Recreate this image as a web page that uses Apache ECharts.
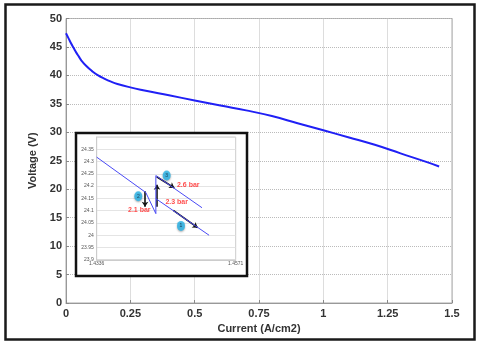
<!DOCTYPE html>
<html>
<head>
<meta charset="utf-8">
<script src="https://cdn.jsdelivr.net/npm/echarts@6/dist/echarts.min.js"></script>
<style>
  html, body { margin: 0; padding: 0; background: #fff; }
  #main { width: 480px; height: 346px; }
</style>
</head>
<body>
<div id="main"></div>
<script>
// polarisation curve (main plot)
var current = [0, 0.01, 0.02, 0.03, 0.04, 0.05, 0.06, 0.08, 0.1, 0.125, 0.15, 0.175, 0.2, 0.25, 0.3, 0.4, 0.5, 0.6, 0.7, 0.8, 0.9, 1.0, 1.1, 1.2, 1.3, 1.4, 1.45];
var voltage = [47.4, 46.5, 45.6, 44.8, 44.0, 43.3, 42.6, 41.6, 40.8, 40.0, 39.4, 38.9, 38.5, 37.9, 37.4, 36.5, 35.6, 34.7, 33.85, 32.85, 31.6, 30.35, 29.1, 27.8, 26.3, 24.8, 24.0];
var xTicks = [0, 0.25, 0.5, 0.75, 1, 1.25, 1.5];

// zoomed inset (pressure steps)
var insetXRange = [1.4336, 1.4571];
var insetPath = [[1.4336, 24.318], [1.4419, 24.174], [1.4436, 24.088], [1.4436, 24.243], [1.4514, 24.112]];
var insetLower = [[1.4436, 24.149], [1.4526, 24.0]];
var insetArrows = [
  [[1.44177, 24.179], [1.44177, 24.116]],
  [[1.4438, 24.116], [1.4438, 24.206]],
  [[1.44374, 24.238], [1.44672, 24.193]],
  [[1.44655, 24.101], [1.45067, 24.031]]
];
var markerNames = ['3', '2', '1'];
var markerPos = [[1.44543, 24.243], [1.44063, 24.159], [1.44785, 24.038]];
var barNames = ['2.6 bar', '2.3 bar', '2.1 bar'];
var barPos = [[1.44908, 24.204], [1.44712, 24.134], [1.4408, 24.101]];

var chart = echarts.init(document.getElementById('main'), null, { renderer: 'canvas' });

var mainData = current.map(function (c, i) { return [c, voltage[i]]; });
var markers = markerNames.map(function (n, i) { return { name: n, value: markerPos[i] }; });
var bars = barNames.map(function (n, i) { return { name: n, value: barPos[i] }; });

var labelFont = 'Liberation Sans, Arial, sans-serif';

var option = {
  animation: false,
  textStyle: { fontFamily: labelFont },
  graphic: [
    { type: 'rect', shape: { x: 5.5, y: 4.5, width: 469, height: 335 },
      style: { fill: 'none', stroke: '#1a1a1a', lineWidth: 2.5 }, z: 10 },
    { type: 'rect', shape: { x: 76, y: 133, width: 171, height: 143 },
      style: { fill: '#fff', stroke: '#111', lineWidth: 2.5 }, z: 4 }
  ],
  grid: [
    { left: 66, right: 28, top: 18.5, bottom: 43, show: true, borderColor: '#aaa', borderWidth: 1 },
    { left: 96.7, right: 244.3, top: 137, bottom: 86.2, show: true, borderColor: '#ccc', borderWidth: 1, z: 5 }
  ],
  xAxis: [{
    gridIndex: 0,
    type: 'value',
    min: 0, max: 1.5, interval: 0.25,
    name: 'Current (A/cm2)',
    nameLocation: 'middle',
    nameGap: 17,
    nameTextStyle: { fontSize: 11, fontWeight: 'bold', color: '#333' },
    axisLine: { lineStyle: { color: '#999' } },
    axisTick: { inside: true, length: 3, lineStyle: { color: '#888' } },
    axisLabel: { fontSize: 11, fontWeight: 'bold', color: '#333', margin: 5,
      customValues: xTicks },
    splitLine: { lineStyle: { type: 'dotted', color: '#bbb' } }
  }, {
    gridIndex: 1,
    type: 'value',
    min: insetXRange[0], max: insetXRange[1],
    z: 5,
    axisLine: { lineStyle: { color: '#ccc' } },
    axisTick: { show: false },
    axisLabel: { fontSize: 5, color: '#555', margin: 1, customValues: insetXRange },
    splitLine: { show: false }
  }],
  yAxis: [{
    gridIndex: 0,
    type: 'value',
    min: 0, max: 50, interval: 5,
    name: 'Voltage (V)',
    nameLocation: 'middle',
    nameGap: 28,
    nameTextStyle: { fontSize: 11, fontWeight: 'bold', color: '#333' },
    axisLine: { lineStyle: { color: '#999' } },
    axisTick: { inside: true, length: 3, lineStyle: { color: '#888' } },
    axisLabel: { fontSize: 11, fontWeight: 'bold', color: '#333', margin: 4 },
    splitLine: { lineStyle: { type: 'dotted', color: '#bbb' } }
  }, {
    gridIndex: 1,
    type: 'value',
    min: 23.9, max: 24.4, interval: 0.05,
    z: 5,
    axisLine: { show: true, lineStyle: { color: '#ccc' } },
    axisTick: { show: false },
    axisLabel: { fontSize: 5, color: '#555', margin: 3, showMaxLabel: false },
    splitLine: { lineStyle: { color: '#ddd', width: 0.8 } }
  }],
  series: [{
    type: 'line',
    xAxisIndex: 0, yAxisIndex: 0,
    data: mainData,
    smooth: true,
    showSymbol: false,
    lineStyle: { color: '#2020f5', width: 2 }
  }, {
    type: 'line',
    xAxisIndex: 1, yAxisIndex: 1,
    z: 6,
    data: insetPath,
    showSymbol: false,
    lineStyle: { color: '#4a4af5', width: 1 },
    markLine: {
      silent: true,
      symbol: ['none', 'arrow'],
      symbolSize: 5,
      label: { show: false },
      lineStyle: { color: '#111', width: 1.6, type: 'solid' },
      data: insetArrows.map(function (a) { return [{ coord: a[0] }, { coord: a[1] }]; })
    }
  }, {
    type: 'line',
    xAxisIndex: 1, yAxisIndex: 1,
    z: 6,
    data: insetLower,
    showSymbol: false,
    lineStyle: { color: '#4a4af5', width: 1 }
  }, {
    type: 'scatter',
    xAxisIndex: 1, yAxisIndex: 1,
    z: 7,
    data: markers,
    symbol: 'circle',
    symbolSize: [8, 10],
    itemStyle: { color: '#27b4ea', shadowColor: 'rgba(0,0,0,0.4)', shadowBlur: 2, shadowOffsetY: 1 },
    label: { show: true, position: 'inside', formatter: '{b}', fontSize: 5, color: '#123' }
  }, {
    type: 'scatter',
    xAxisIndex: 1, yAxisIndex: 1,
    z: 7,
    data: bars,
    symbolSize: 0,
    label: { show: true, position: 'inside', formatter: '{b}', fontSize: 7, fontWeight: 'bold', color: '#ff1f1f' }
  }]
};

chart.setOption(option);
</script>
</body>
</html>
